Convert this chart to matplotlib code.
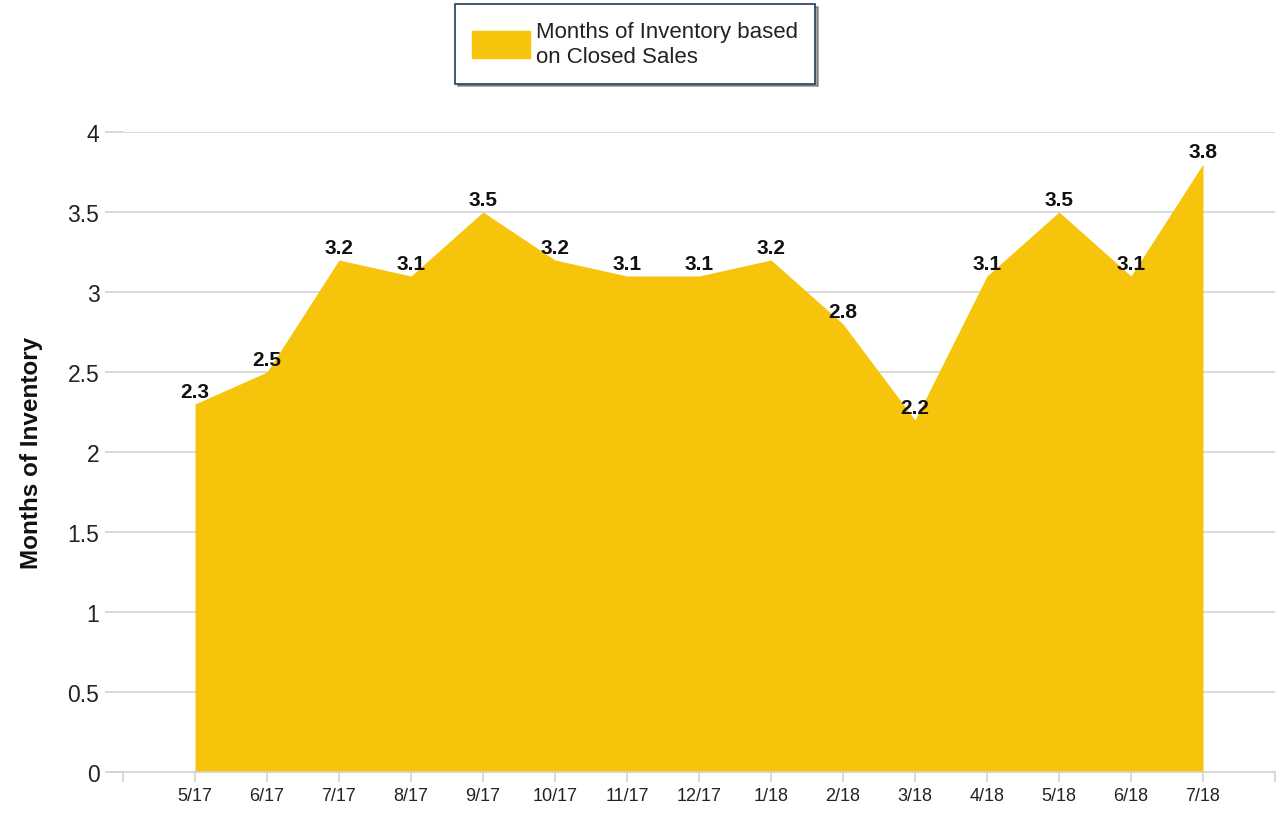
import matplotlib.pyplot as plt
from matplotlib.patches import Patch

months = ["5/17", "6/17", "7/17", "8/17", "9/17", "10/17", "11/17", "12/17",
          "1/18", "2/18", "3/18", "4/18", "5/18", "6/18", "7/18"]
inventory = [2.3, 2.5, 3.2, 3.1, 3.5, 3.2, 3.1, 3.1, 3.2, 2.8, 2.2, 3.1, 3.5, 3.1, 3.8]

fill_color = "#F6C40A"
grid_color = "#D3D3D3"

plt.rcParams["font.family"] = ["Liberation Sans", "DejaVu Sans"]

fig = plt.figure(figsize=(12.8, 8.2), dpi=100)
ax = fig.add_axes([123 / 1280, 47 / 820, (1275 - 123) / 1280, 640 / 820])

x = list(range(len(months)))
ax.fill_between(x, 0, inventory, color=fill_color, linewidth=0, zorder=2)

# data labels above each point
for xi, v in zip(x, inventory):
    ax.annotate(f"{v:g}", (xi, v), xytext=(0, 2), textcoords="offset points",
                ha="center", va="bottom", fontsize=15, fontweight="bold",
                color="#111111", zorder=3)

ax.set_xlim(-1, 15)
ax.set_ylim(0, 4)
ax.set_yticks([0, 0.5, 1, 1.5, 2, 2.5, 3, 3.5, 4])
ax.set_yticklabels(["0", "0.5", "1", "1.5", "2", "2.5", "3", "3.5", "4"])
ax.set_xticks(range(-1, 16))
ax.set_xticklabels([""] + months + [""])

ax.grid(axis="y", color=grid_color, linewidth=1.2, zorder=1)
ax.set_axisbelow(True)
for side in ["top", "right", "left"]:
    ax.spines[side].set_visible(False)
ax.spines["bottom"].set_color(grid_color)
ax.spines["bottom"].set_linewidth(1.2)
ax.spines["bottom"].set_bounds(-1.18, 15)

ax.tick_params(axis="y", length=13, color=grid_color, width=1.2,
               labelsize=16.5, labelcolor="#222222", pad=4)
ax.tick_params(axis="x", length=7, color=grid_color, width=1.2,
               labelsize=13, labelcolor="#222222", pad=4)

ax.set_ylabel("Months of Inventory", fontsize=17.5, fontweight="bold",
              color="#111111", labelpad=18)

handle = Patch(facecolor=fill_color, edgecolor=fill_color)
leg = fig.legend([handle], ["Months of Inventory based\non Closed Sales"],
                 loc="center", bbox_to_anchor=(635 / 1280, 1 - 45 / 820),
                 fontsize=16, frameon=True, fancybox=False, shadow=True,
                 handlelength=2.6, handleheight=1.5, borderpad=0.75,
                 handletextpad=0.3, labelspacing=0.2, borderaxespad=0)
leg.get_frame().set_edgecolor("#2F4A6B")
leg.get_frame().set_linewidth(1.3)
for t in leg.get_texts():
    t.set_color("#222222")
    t.set_linespacing(1.25)

fig.savefig("out.png", dpi=100)
